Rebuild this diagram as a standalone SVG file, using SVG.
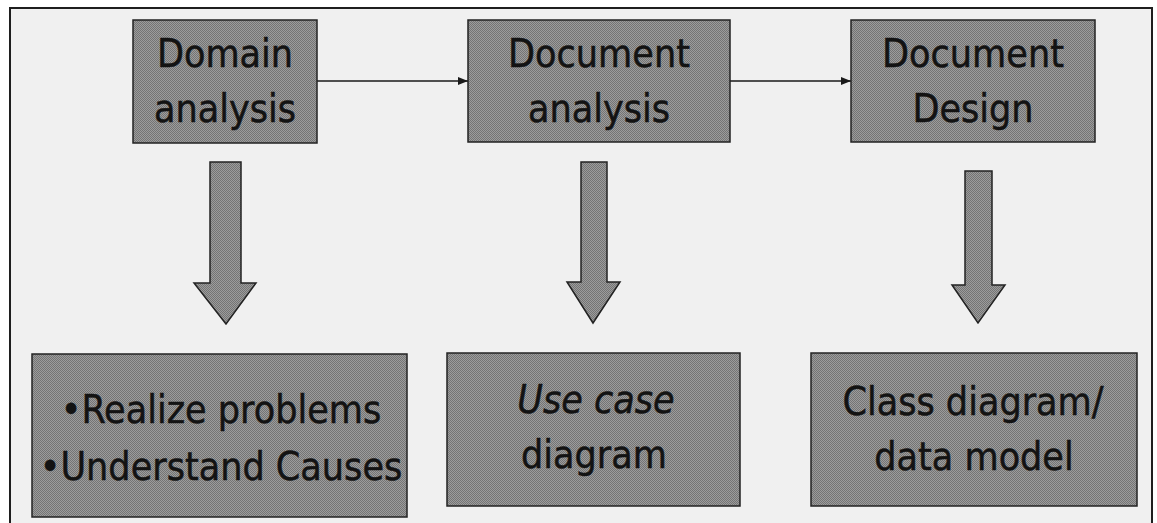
<svg xmlns="http://www.w3.org/2000/svg" width="1157" height="523" viewBox="0 0 1157 523">
  <defs>
    <!-- dithered grey fill used by boxes and block arrows -->
    <pattern id="dither" width="2" height="2" patternUnits="userSpaceOnUse">
      <rect width="2" height="2" fill="#9c9c9c"/>
      <rect width="1" height="1" fill="#747474"/>
      <rect x="1" y="1" width="1" height="1" fill="#747474"/>
    </pattern>
    <marker id="tip" viewBox="0 0 10 10" refX="10" refY="5" markerWidth="10" markerHeight="10" markerUnits="userSpaceOnUse" orient="auto">
      <path d="M0,1 L10,5 L0,9 Z" fill="#1a1a1a"/>
    </marker>
    <style>
      .box { fill: url(#dither); stroke: #222; stroke-width: 1.5; }
      .blk { fill: url(#dither); stroke: #222; stroke-width: 1.5; stroke-linejoin: miter; }
      .lbl { font-family: "DejaVu Sans Condensed", "DejaVu Sans", sans-serif; font-stretch: condensed; font-size: 39px; fill: #131313; stroke: #131313; stroke-width: 0.5; text-anchor: middle; }
      .it { font-style: italic; }
      .link { stroke: #1a1a1a; stroke-width: 1.6; fill: none; marker-end: url(#tip); }
    </style>
  </defs>

  <!-- page background and frame -->
  <rect width="1157" height="523" fill="#ffffff"/>
  <rect x="10" y="8" width="1142" height="515" fill="#f0f0f0"/>
  <path d="M10,523 V8 H1152 V523" fill="none" stroke="#1e1e1e" stroke-width="2"/>

  <!-- connectors -->
  <g id="connectors">
    <line class="link" x1="317" y1="81" x2="468" y2="81"/>
    <line class="link" x1="730" y1="81" x2="851" y2="81"/>
    <polygon class="blk" points="210,162 241,162 241,283 256,283 226,324 194,283 210,283"/>
    <polygon class="blk" points="581,162 607,162 607,282 620,282 593,323 567,282 581,282"/>
    <polygon class="blk" points="965,171 992,171 992,285 1005,285 978,323 952,285 965,285"/>
  </g>

  <g id="domain-analysis">
    <rect class="box" x="133" y="20" width="184" height="123"/>
    <text class="lbl" x="225" y="67">Domain</text>
    <text class="lbl" x="225" y="122">analysis</text>
  </g>

  <g id="document-analysis">
    <rect class="box" x="468" y="20" width="262" height="122"/>
    <text class="lbl" x="599" y="67">Document</text>
    <text class="lbl" x="599" y="122">analysis</text>
  </g>

  <g id="document-design">
    <rect class="box" x="851" y="20" width="244" height="122"/>
    <text class="lbl" x="973" y="67">Document</text>
    <text class="lbl" x="973" y="122">Design</text>
  </g>

  <g id="problems-causes">
    <rect class="box" x="32" y="354" width="375" height="163"/>
    <text class="lbl" x="221" y="423">•Realize problems</text>
    <text class="lbl" x="221" y="480">•Understand Causes</text>
  </g>

  <g id="use-case-diagram">
    <rect class="box" x="447" y="353" width="293" height="153"/>
    <text class="lbl it" x="596" y="413">Use case</text>
    <text class="lbl" x="594" y="468">diagram</text>
  </g>

  <g id="class-diagram">
    <rect class="box" x="811" y="353" width="326" height="153"/>
    <text class="lbl" x="973" y="415">Class diagram/</text>
    <text class="lbl" x="974" y="470">data model</text>
  </g>
</svg>
